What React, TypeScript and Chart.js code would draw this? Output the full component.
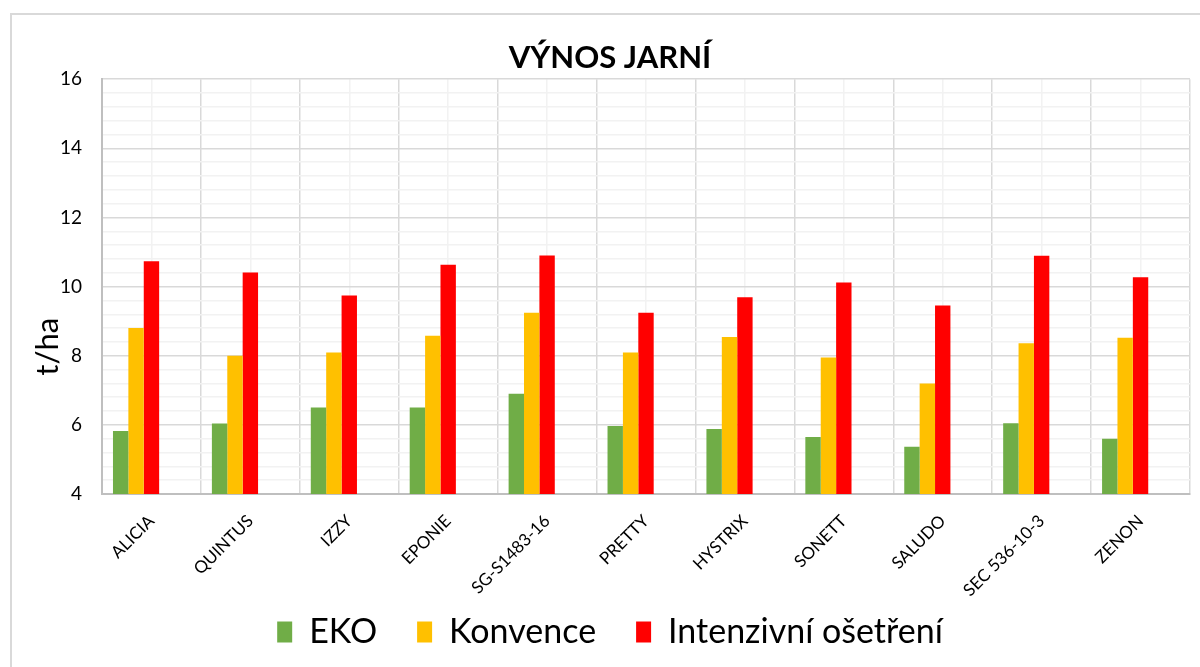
import React, { useEffect, useRef } from "react";
import { Chart, registerables } from "chart.js";

Chart.register(...registerables);

const categories = ["ALICIA", "QUINTUS", "IZZY", "EPONIE", "SG-S1483-16", "PRETTY", "HYSTRIX", "SONETT", "SALUDO", "SEC 536-10-3", "ZENON"];
const ekoValues = [5.82, 6.04, 6.5, 6.5, 6.9, 5.97, 5.88, 5.65, 5.37, 6.05, 5.6];
const konvenceValues = [8.8, 8.0, 8.09, 8.58, 9.24, 8.09, 8.54, 7.95, 7.2, 8.36, 8.52];
const intenzivniValues = [10.73, 10.41, 9.74, 10.63, 10.9, 9.24, 9.69, 10.12, 9.45, 10.89, 10.27];
const seriesNames = ["EKO", "Konvence", "Intenzivní ošetření"];
const seriesColors = ["#70ad47", "#ffc000", "#ff0000"];
const titleText = "VÝNOS JARNÍ";
const yTitle = "t/ha";

const FONT = "Lato, 'Open Sans', sans-serif";

const yTitlePlugin = {
  id: "yTitlePlugin",
  afterDraw(chart: any) {
    const ctx = chart.ctx;
    const area = chart.chartArea;
    ctx.save();
    ctx.translate(48, area.top + (area.bottom - area.top) * 0.645);
    ctx.rotate(-Math.PI / 2);
    ctx.fillStyle = "#000";
    ctx.font = `31px ${FONT}`;
    ctx.textAlign = "center";
    ctx.textBaseline = "middle";
    ctx.fillText(yTitle, 0, 0);
    ctx.restore();
  },
};

export default function App() {
  const ref = useRef<HTMLCanvasElement | null>(null);

  useEffect(() => {
    if (!ref.current) return;
    const empty = categories.map(() => null);
    const chart = new Chart(ref.current, {
      type: "bar",
      data: {
        labels: categories,
        datasets: [
          { label: seriesNames[0], data: ekoValues, backgroundColor: seriesColors[0] },
          { label: seriesNames[1], data: konvenceValues, backgroundColor: seriesColors[1] },
          { label: seriesNames[2], data: intenzivniValues, backgroundColor: seriesColors[2] },
          { label: "_a", data: empty as any, backgroundColor: "transparent" },
          { label: "_b", data: empty as any, backgroundColor: "transparent" },
        ],
      },
      plugins: [yTitlePlugin],
      options: {
        animation: false,
        responsive: false,
        maintainAspectRatio: false,
        datasets: { bar: { categoryPercentage: 0.778, barPercentage: 1 } },
        layout: { padding: { left: 30, right: 10, top: 39, bottom: 8 } },
        plugins: {
          tooltip: { enabled: false },
          title: {
            display: true,
            text: titleText,
            color: "#000",
            font: { family: FONT, size: 31, weight: "bold" },
            padding: { top: 0, bottom: 3 },
          },
          legend: {
            position: "bottom",
            labels: {
              filter: (item: any) => !String(item.text).startsWith("_"),
              boxWidth: 15,
              boxHeight: 21,
              padding: 40,
              color: "#000",
              font: { family: FONT, size: 34 },
            },
          },
        },
        scales: {
          x: {
            type: "category",
            offset: true,
            grid: { offset: true, color: "#d9d9d9", lineWidth: 1.5, drawTicks: false },
            border: { display: true, color: "#bfbfbf", width: 2 },
            ticks: {
              maxRotation: 45,
              minRotation: 45,
              color: "#000",
              padding: 17,
              autoSkip: false,
              font: { family: FONT, size: 17 },
            },
            afterFit: (s: any) => {
              s.height = 81;
              s._computeLabelArea = () => undefined;
            },
          },
          x2: {
            type: "category",
            position: "bottom",
            offset: true,
            labels: categories,
            grid: { offset: false, color: "#f2f2f2", lineWidth: 1.5, drawTicks: false },
            border: { display: false },
            ticks: { display: false },
            afterFit: (s: any) => { s.height = 0; },
          },
          y: {
            min: 4,
            max: 16,
            ticks: {
              stepSize: 0.4,
              autoSkip: false,
              color: "#000",
              padding: 20,
              font: { family: FONT, size: 19 },
              callback: (v: any) => {
                const n = Number(v);
                const r = Math.round(n);
                return Math.abs(n - r) < 1e-6 && r % 2 === 0 ? String(r) : "";
              },
            },
            grid: {
              drawTicks: false,
              color: (ctx: any) => {
                const n = ctx.tick ? ctx.tick.value : 0;
                const r = Math.round(n);
                return Math.abs(n - r) < 1e-6 && r % 2 === 0 ? "#d9d9d9" : "#f2f2f2";
              },
              lineWidth: 1.5,
            },
            border: { display: true, color: "#bfbfbf", width: 2 },
            afterFit: (s: any) => { s.width = 72; },
          },
        },
      },
    });
    return () => chart.destroy();
  }, []);

  return (
    <div style={{ position: "fixed", left: 0, top: 0, width: 1200, height: 667, overflow: "hidden", background: "#fff" }}>
      <div style={{ position: "absolute", left: 10, top: 13, width: 1300, height: 800, border: "2px solid #d9d9d9", boxSizing: "border-box" }} />
      <canvas ref={ref} width={1200} height={667} style={{ position: "absolute", left: 0, top: 0, width: 1200, height: 667 }} />
    </div>
  );
}
